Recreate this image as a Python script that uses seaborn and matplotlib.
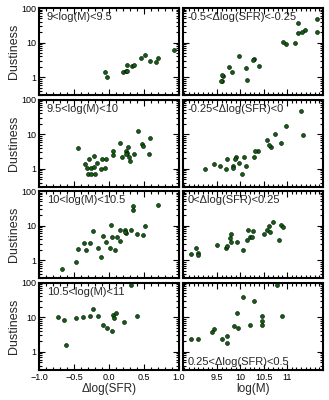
import numpy as np
import pandas as pd
import seaborn as sns
import matplotlib.pyplot as plt
from matplotlib.ticker import MultipleLocator, LogLocator, NullFormatter, FixedLocator

#### data ####
# left column: dustiness vs delta log(SFR), binned by stellar mass
mass_bins = ['9<log(M)<9.5', '9.5<log(M)<10', '10<log(M)<10.5', '10.5<log(M)<11']

m1_dsfr = [-0.06, -0.03, 0.21, 0.24, 0.26, 0.26, 0.33, 0.36, 0.46, 0.52, 0.59, 0.67, 0.71, 0.93]
m1_dust = [1.43, 1.02, 1.43, 1.53, 1.55, 2.24, 2.19, 2.2, 3.5, 4.3, 3.0, 2.75, 3.6, 6.0]

m2_dsfr = [-0.445, 0.42, 0.155, 0.054, 0.058, 0.184, 0.251, 0.256, 0.251, 0.27, 0.29, 0.304,
           0.358, 0.473, 0.493, 0.575, 0.594, -0.338, -0.319, -0.29, -0.261, -0.217, -0.208,
           -0.164, -0.3, -0.26, -0.203, -0.116, -0.091, -0.058, -0.039]
m2_dust = [3.95, 12.2, 5.66, 3.23, 2.46, 2.19, 3.23, 2.88, 2.69, 4.23, 2.19, 1.64,
           2.69, 5.08, 4.53, 2.76, 7.6, 1.36, 1.04, 1.88, 1.09, 1.14, 2.3,
           1.5, 0.73, 0.73, 0.73, 1.0, 1.88, 1.04, 1.97]

m3_dsfr = [-0.667, -0.469, -0.435, -0.362, -0.324, -0.266, -0.232, -0.159, -0.111, -0.082,
           -0.039, 0.01, 0.025, 0.039, 0.092, 0.111, 0.159, 0.164, 0.232, 0.242, 0.237,
           0.319, 0.343, 0.353, 0.406, 0.488, 0.512, 0.70]
m3_dust = [0.57, 0.87, 2.08, 3.26, 1.95, 3.11, 6.8, 2.27, 1.22, 4.96,
           3.4, 2.27, 10.3, 4.86, 1.99, 4.86, 3.72, 7.6, 7.3, 6.1, 6.5,
           7.6, 28, 36, 5.8, 5.5, 9.9, 39]

m4_dsfr = [0.314, -0.734, -0.638, -0.469, -0.367, -0.271, -0.222, -0.155, -0.087, -0.019,
           0.043, 0.058, 0.068, 0.101, 0.222, 0.406, -0.609]
m4_dust = [87, 9.8, 8.4, 9.5, 10.0, 10.9, 17.5, 10.5, 6.0, 4.8,
           3.9, 11.2, 9.5, 12.8, 7.3, 10.7, 1.53]

# right column: dustiness vs log(M), binned by delta log(SFR)
sfr_bins = ['-0.5<\u0394log(SFR)<-0.25', '-0.25<\u0394log(SFR)<0',
            '0<\u0394log(SFR)<0.25', '0.25<\u0394log(SFR)<0.5']

s1_mass = [11.64, 11.65, 11.39, 11.33, 11.24, 11.23, 11.17, 10.98, 10.92, 10.39, 10.30, 10.28,
           10.15, 10.12, 9.98, 9.83, 9.76, 9.63, 9.60, 9.61, 9.59]
s1_dust = [49, 20.9, 23.5, 20.5, 19.2, 36.8, 9.8, 8.9, 10.3, 2.09, 3.28, 3.07,
           0.86, 1.92, 4.1, 1.47, 2.0, 1.12, 1.17, 0.78, 0.79]

s2_mass = [11.30, 11.35, 10.97, 10.87, 10.75, 10.65, 10.62, 10.58, 10.38, 10.32, 10.29, 10.07,
           10.12, 10.03, 9.98, 9.90, 9.88, 9.85, 9.85, 9.71, 9.69, 9.56, 9.43, 9.25]
s2_dust = [45.3, 9.7, 17.2, 5.66, 10.0, 4.32, 4.74, 6.6, 3.38, 3.38, 2.25, 2.19,
           1.17, 0.73, 1.5, 2.25, 1.97, 1.17, 1.09, 1.92, 1.02, 1.17, 1.37, 1.0]

s3_mass = [8.94, 9.05, 9.08, 9.09, 9.49, 9.70, 9.71, 9.80, 9.80, 9.78, 9.92, 10.05, 10.14,
           10.17, 10.20, 10.25, 10.28, 10.51, 10.58, 10.61, 10.64, 10.70, 10.83, 10.88, 10.91]
s3_dust = [1.56, 2.23, 1.6, 1.46, 2.78, 2.33, 2.54, 5.9, 3.3, 4.3, 3.3, 1.95, 3.8,
           7.7, 4.86, 4.86, 6.9, 5.9, 7.4, 10.1, 6.6, 12.4, 3.8, 10.5, 9.0]

s4_mass = [10.78, 10.06, 10.29, 9.93, 10.47, 10.46, 10.46, 10.90, 10.20, 9.87, 9.96,
           9.71, 9.61, 9.71, 9.43, 9.40, 9.08, 8.95]
s4_dust = [87, 38, 30, 13.1, 10.5, 8.0, 5.85, 10.7, 6.1, 5.5, 4.8,
           2.93, 2.39, 1.83, 4.47, 3.72, 2.29, 2.29]

left_data = [(m1_dsfr, m1_dust), (m2_dsfr, m2_dust), (m3_dsfr, m3_dust), (m4_dsfr, m4_dust)]
right_data = [(s1_mass, s1_dust), (s2_mass, s2_dust), (s3_mass, s3_dust), (s4_mass, s4_dust)]

#### plot ####
sns.set_style('ticks')
plt.rcParams['font.family'] = ['Liberation Sans', 'DejaVu Sans']
plt.rcParams['axes.unicode_minus'] = True

fig, axes = plt.subplots(4, 2, figsize=(3.29, 4.0), dpi=100)
fig.subplots_adjust(left=0.1185, right=0.981, bottom=0.075, top=0.98, hspace=0.046, wspace=0.032)

pt_color = '#0e620e'

def style_axis(ax):
    ax.set_yscale('log')
    ax.set_ylim(0.3, 100)
    for sp in ax.spines.values():
        sp.set_linewidth(1.5)
        sp.set_color('black')
    ax.yaxis.set_major_locator(FixedLocator([1, 10, 100]))
    ax.yaxis.set_minor_locator(LogLocator(base=10, subs=np.arange(2, 10)))
    ax.yaxis.set_minor_formatter(NullFormatter())
    ax.tick_params(which='both', direction='in', top=True, right=True, width=0.8, colors='black',
                   labelsize=6.5, pad=2)
    ax.tick_params(which='major', length=4.5)
    ax.tick_params(which='minor', length=2.2)
    ax.set_xlabel('')
    ax.set_ylabel('')

for i in range(4):
    # left: delta log(SFR)
    ax = axes[i, 0]
    df = pd.DataFrame({'x': left_data[i][0], 'y': left_data[i][1]})
    sns.scatterplot(data=df, x='x', y='y', ax=ax, color=pt_color, edgecolor='black',
                    linewidth=0.4, s=8, zorder=3)
    style_axis(ax)
    ax.set_xlim(-1.0, 1.0)
    ax.xaxis.set_major_locator(MultipleLocator(0.5))
    ax.xaxis.set_minor_locator(MultipleLocator(0.1))
    ax.yaxis.set_major_formatter(plt.FuncFormatter(lambda v, p: '%d' % v))
    ax.set_ylabel('Dustiness', fontsize=9, labelpad=1)
    ax.text(0.055, 0.95, mass_bins[i], transform=ax.transAxes, fontsize=8, va='top', ha='left')
    if i < 3:
        ax.set_xticklabels([])
    else:
        ax.xaxis.set_major_formatter(plt.FuncFormatter(lambda v, p: ('%.1f' % v).replace('-', '\u2212')))
        ax.set_xlabel('\u0394log(SFR)', fontsize=8.5, labelpad=1)

    # right: log(M)
    ax = axes[i, 1]
    df = pd.DataFrame({'x': right_data[i][0], 'y': right_data[i][1]})
    sns.scatterplot(data=df, x='x', y='y', ax=ax, color=pt_color, edgecolor='black',
                    linewidth=0.4, s=8, zorder=3)
    style_axis(ax)
    ax.set_xlim(8.77, 11.77)
    ax.xaxis.set_major_locator(FixedLocator([9.5, 10, 10.5, 11]))
    ax.xaxis.set_minor_locator(MultipleLocator(0.1))
    ax.set_yticklabels([])
    if i < 3:
        ax.text(0.035, 0.95, sfr_bins[i], transform=ax.transAxes, fontsize=8, va='top', ha='left')
        ax.set_xticklabels([])
    else:
        ax.text(0.035, 0.04, sfr_bins[i], transform=ax.transAxes, fontsize=8, va='bottom', ha='left')
        ax.set_xticklabels(['9.5', '10', '10.5', '11'])
        ax.set_xlabel('log(M)', fontsize=8.5, labelpad=1)

plt.savefig('out.png', dpi=100)
